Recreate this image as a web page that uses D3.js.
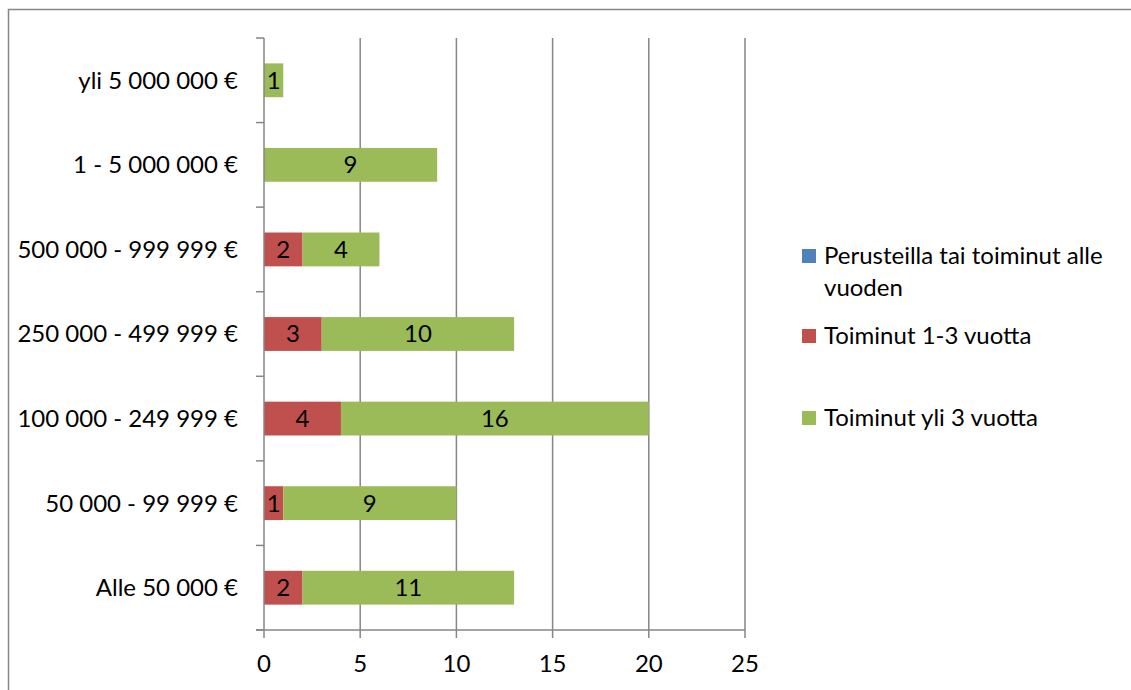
<!DOCTYPE html>
<html>
<head>
<meta charset="utf-8">
<script src="https://cdn.jsdelivr.net/npm/d3@7"></script>
<style>
  html, body { margin: 0; padding: 0; background: #fff; }
  svg { display: block; }
  text { font-family: Lato, "Open Sans", sans-serif; fill: #000; font-size: 24px; }
</style>
</head>
<body>
<svg id="chart" width="1131" height="690"></svg>
<script>
// Revenue classes, bottom to top
const categories = [
  "Alle 50 000 €",
  "50 000 - 99 999 €",
  "100 000 - 249 999 €",
  "250 000 - 499 999 €",
  "500 000 - 999 999 €",
  "1 - 5 000 000 €",
  "yli 5 000 000 €"
];
const seriesNames = [
  "Perusteilla tai toiminut alle vuoden",
  "Toiminut 1-3 vuotta",
  "Toiminut yli 3 vuotta"
];
const seriesColors = ["#4f81bd", "#c0504d", "#9bbb59"];
const perusteilla = [0, 0, 0, 0, 0, 0, 0];
const toiminut13 = [2, 1, 4, 3, 2, 0, 0];
const toiminutYli3 = [11, 9, 16, 10, 4, 9, 1];
const xTicks = [0, 5, 10, 15, 20, 25];

const seriesValues = [perusteilla, toiminut13, toiminutYli3];
const rows = categories.map((c, i) => {
  const r = { category: c };
  seriesNames.forEach((s, j) => { r[s] = seriesValues[j][i]; });
  return r;
});

const svg = d3.select("#chart");
const axisColor = "#868686";

// Outer chart frame
svg.append("rect")
  .attr("x", 8.5).attr("y", 9.5)
  .attr("width", 1140).attr("height", 700)
  .attr("fill", "none").attr("stroke", axisColor).attr("stroke-width", 1.5);

const plot = { left: 264, right: 745, top: 38, bottom: 630 };

const x = d3.scaleLinear().domain([0, 25]).range([plot.left, plot.right]);
const y = d3.scaleBand()
  .domain(categories.slice().reverse())
  .range([plot.top, plot.bottom])
  .paddingInner(0.6).paddingOuter(0.3);

// Vertical gridlines
svg.append("g").selectAll("line")
  .data(xTicks.filter(t => t > 0))
  .join("line")
  .attr("x1", d => x(d)).attr("x2", d => x(d))
  .attr("y1", plot.top).attr("y2", plot.bottom)
  .attr("stroke", axisColor).attr("stroke-width", 1.5);

// Stacked bars
const stack = d3.stack().keys(seriesNames);
const layers = stack(rows);
const barH = y.bandwidth();

const gBars = svg.append("g");
layers.forEach((layer, j) => {
  gBars.append("g").attr("fill", seriesColors[j])
    .selectAll("rect")
    .data(layer.filter(d => d[1] - d[0] > 0))
    .join("rect")
    .attr("x", d => x(d[0]))
    .attr("width", d => x(d[1]) - x(d[0]))
    .attr("y", d => y(d.data.category))
    .attr("height", barH);
});

// Value labels inside segments
layers.forEach((layer, j) => {
  svg.append("g").selectAll("text")
    .data(layer.filter(d => d[1] - d[0] > 0))
    .join("text")
    .attr("x", d => (x(d[0]) + x(d[1])) / 2)
    .attr("y", d => y(d.data.category) + barH / 2)
    .attr("dy", "0.35em")
    .attr("text-anchor", "middle")
    .text(d => d[1] - d[0]);
});

// Category axis
const yTickPositions = d3.range(categories.length + 1)
  .map(i => plot.top + i * (plot.bottom - plot.top) / categories.length);
const gy = svg.append("g");
gy.append("line")
  .attr("x1", plot.left).attr("x2", plot.left)
  .attr("y1", plot.top).attr("y2", plot.bottom)
  .attr("stroke", axisColor).attr("stroke-width", 1.5);
gy.selectAll("line.tick").data(yTickPositions).join("line")
  .attr("class", "tick")
  .attr("x1", plot.left - 8).attr("x2", plot.left)
  .attr("y1", d => d).attr("y2", d => d)
  .attr("stroke", axisColor).attr("stroke-width", 1.5);
gy.selectAll("text").data(categories).join("text")
  .attr("x", plot.left - 26)
  .attr("y", d => y(d) + barH / 2)
  .attr("dy", "0.35em")
  .attr("text-anchor", "end")
  .text(d => d);

// Value axis
const gx = svg.append("g");
gx.append("line")
  .attr("x1", plot.left - 8).attr("x2", plot.right)
  .attr("y1", plot.bottom).attr("y2", plot.bottom)
  .attr("stroke", axisColor).attr("stroke-width", 1.5);
gx.selectAll("line.tick").data(xTicks).join("line")
  .attr("class", "tick")
  .attr("x1", d => x(d)).attr("x2", d => x(d))
  .attr("y1", plot.bottom).attr("y2", plot.bottom + 8)
  .attr("stroke", axisColor).attr("stroke-width", 1.5);
gx.selectAll("text").data(xTicks).join("text")
  .attr("x", d => x(d))
  .attr("y", 664)
  .attr("dy", "0.35em")
  .attr("text-anchor", "middle")
  .text(d => d);

// Legend
const legend = svg.append("g");
const legendItems = [
  { lines: ["Perusteilla tai toiminut alle", "vuoden"], top: 249 },
  { lines: ["Toiminut 1-3 vuotta"], top: 329 },
  { lines: ["Toiminut yli 3 vuotta"], top: 411 }
];
legendItems.forEach((item, j) => {
  legend.append("rect")
    .attr("x", 802).attr("y", item.top)
    .attr("width", 14).attr("height", 14)
    .attr("fill", seriesColors[j]);
  item.lines.forEach((ln, k) => {
    legend.append("text")
      .attr("x", 824)
      .attr("y", item.top + 15 + k * 32)
      .text(ln);
  });
});
</script>
</body>
</html>
